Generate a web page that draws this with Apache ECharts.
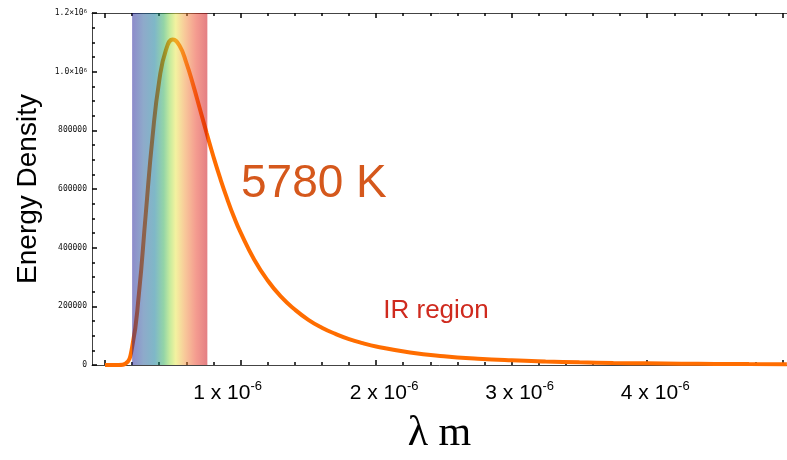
<!DOCTYPE html>
<html>
<head>
<meta charset="utf-8">
<script src="https://cdn.jsdelivr.net/npm/echarts@6/dist/echarts.min.js"></script>
<style>
html,body{margin:0;padding:0;background:#fff;}
#chart{width:787px;height:460px;}
</style>
</head>
<body>
<div id="chart"></div>
<script>
// Wavelength in micrometres (axis labels show metres, x 10^-6)
const lambdaMicron = [0, 0.05, 0.10, 0.15, 0.20, 0.25, 0.30, 0.35, 0.40, 0.45, 0.50, 0.55, 0.60, 0.65, 0.70, 0.75, 0.80, 0.85, 0.90, 0.95, 1.00, 1.10, 1.20, 1.30, 1.40, 1.50, 1.60, 1.70, 1.80, 1.90, 2.00, 2.25, 2.50, 2.75, 3.00, 3.25, 3.50, 3.75, 4.00, 4.25, 4.50, 4.75, 5.03];
const energyDensity = [0, 0, 10, 4100, 61300, 242000, 512000, 775000, 969000, 1075000, 1110000, 1088000, 1030000, 955000, 873000, 790000, 710000, 636000, 568000, 506000, 452000, 360000, 288000, 232000, 189000, 154000, 127000, 106000, 88400, 74500, 63100, 42800, 30000, 21600, 15900, 12000, 9200, 7100, 5650, 4500, 3660, 3000, 2440];

// Visible-spectrum band (micrometres)
const bandStart = 0.20;
const bandEnd = 0.755;

// Tick values and labels
const xMajorTicks = [0, 1, 2, 3, 4, 5];
const xMinorTicks = [0.2, 0.4, 0.6, 0.8, 1.2, 1.4, 1.6, 1.8, 2.2, 2.4, 2.6, 2.8, 3.2, 3.4, 3.6, 3.8, 4.2, 4.4, 4.6, 4.8];
const xLabelValues = [1, 2, 3, 4];
const xLabelBase = ['1 x 10', '2 x 10', '3 x 10', '4 x 10'];
const xLabelExp = '-6';
const yTickLabels = {0: '0', 200000: '200000', 400000: '400000', 600000: '600000', 800000: '800000', 1000000: '1.0\u00d710{sup|6}', 1200000: '1.2\u00d710{sup|6}'};

const xMin = -0.096, xMax = 5.031;

const chart = echarts.init(document.getElementById('chart'));

const tickStyle = {color: '#000', width: 1.5};
const axisLineStyle = {color: '#444', width: 1};

function xAxisBase(pos, ticks, len, showLine) {
  return {
    type: 'value', position: pos, min: xMin, max: xMax,
    axisLine: {show: showLine, onZero: false, lineStyle: axisLineStyle},
    axisTick: {show: true, inside: true, length: len, customValues: ticks, lineStyle: tickStyle},
    axisLabel: {show: false},
    splitLine: {show: false}
  };
}

const bottomMajor = xAxisBase('bottom', xMajorTicks, 5, true);
bottomMajor.axisLabel = {
  show: true,
  customValues: xLabelValues,
  margin: 15,
  color: '#000',
  fontFamily: 'Liberation Sans',
  fontSize: 21,
  formatter: function (v) {
    const i = xLabelValues.indexOf(Math.round(v));
    if (i < 0) return '';
    if (i === 0) return '{b|' + xLabelBase[i] + '}{s1|' + xLabelExp + '}';
    return '{p|}{b|' + xLabelBase[i] + '}{s|' + xLabelExp + '}';
  },
  rich: {
    b: {fontSize: 21, fontFamily: 'Liberation Sans', color: '#000', lineHeight: 26},
    s: {fontSize: 13, fontFamily: 'Liberation Sans', color: '#000', verticalAlign: 'top', lineHeight: 14},
    s1: {fontSize: 13, fontFamily: 'Liberation Sans', color: '#000', verticalAlign: 'top', lineHeight: 14, padding: [0, 26, 0, 0]},
    p: {width: 16}
  }
};
bottomMajor.name = '\u03bb m';
bottomMajor.nameLocation = 'middle';
bottomMajor.nameGap = 48;
bottomMajor.nameTextStyle = {fontFamily: 'Liberation Serif', fontSize: 42, color: '#000', verticalAlign: 'top'};

const option = {
  animation: false,
  backgroundColor: '#fff',
  grid: {left: 92, right: 0, top: 13, bottom: 94.5, containLabel: false},
  xAxis: [
    bottomMajor,
    xAxisBase('bottom', xMinorTicks, 3, false),
    xAxisBase('top', xMajorTicks, 5, true),
    xAxisBase('top', xMinorTicks, 3, false)
  ],
  yAxis: {
    type: 'value', min: 0, max: 1200000, interval: 200000,
    name: 'Energy Density', nameLocation: 'middle', nameGap: 50,
    nameTextStyle: {fontFamily: 'Liberation Sans', fontSize: 28, color: '#000'},
    axisLine: {show: true, onZero: false, lineStyle: axisLineStyle},
    axisTick: {show: true, inside: true, length: 5, lineStyle: tickStyle},
    minorTick: {show: true, splitNumber: 4, length: 3, lineStyle: tickStyle},
    splitLine: {show: false},
    minorSplitLine: {show: false},
    axisLabel: {
      margin: 5, color: '#111', fontFamily: 'DejaVu Sans Mono', fontSize: 8,
      formatter: function (v) { return yTickLabels[v] !== undefined ? yTickLabels[v] : ''; },
      rich: {sup: {fontSize: 5.5, fontFamily: 'DejaVu Sans Mono', color: '#111', verticalAlign: 'top', lineHeight: 6}}
    }
  },
  series: [
    {
      type: 'line', xAxisIndex: 0, yAxisIndex: 0, z: 2,
      data: lambdaMicron.map((x, i) => [x, energyDensity[i]]),
      showSymbol: false, symbol: 'none',
      smooth: 0.5,
      lineStyle: {color: '#ff6d00', width: 4},
      clip: true
    },
    {
      type: 'custom', xAxisIndex: 0, yAxisIndex: 0, z: 5,
      data: [[bandStart, bandEnd]],
      encode: {x: [0, 1]},
      renderItem: function (params, api) {
        const p0 = api.coord([api.value(0), 1200000]);
        const p1 = api.coord([api.value(1), 0]);
        return {
          type: 'rect',
          shape: {x: p0[0], y: p0[1], width: p1[0] - p0[0], height: p1[1] - p0[1]},
          style: {
            fill: new echarts.graphic.LinearGradient(0, 0, 1, 0, [
              {offset: 0.00, color: 'rgba(29,25,151,0.5)'},
              {offset: 0.15, color: 'rgba(30,85,150,0.5)'},
              {offset: 0.30, color: 'rgba(0,113,145,0.5)'},
              {offset: 0.42, color: 'rgba(40,170,80,0.5)'},
              {offset: 0.50, color: 'rgba(140,215,60,0.5)'},
              {offset: 0.58, color: 'rgba(231,229,65,0.5)'},
              {offset: 0.70, color: 'rgba(241,147,53,0.5)'},
              {offset: 0.85, color: 'rgba(233,57,33,0.5)'},
              {offset: 1.00, color: 'rgba(201,0,9,0.5)'}
            ])
          }
        };
      }
    }
  ],
  graphic: [
    {type: 'text', x: 241, y: 184, z: 10,
     style: {text: '5780 K', fill: '#d5581c', font: '46px "Liberation Sans"', textAlign: 'left', textVerticalAlign: 'middle'}},
    {type: 'text', x: 436, y: 311, z: 10,
     style: {text: 'IR region', fill: '#cf2a1e', font: '26px "Liberation Sans"', textAlign: 'center', textVerticalAlign: 'middle'}}
  ]
};

chart.setOption(option);
</script>
</body>
</html>
